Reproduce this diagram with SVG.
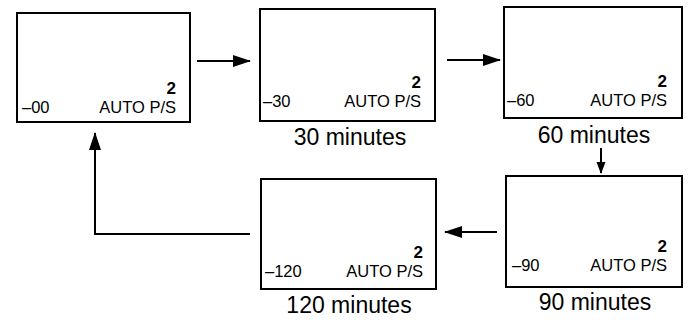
<svg xmlns="http://www.w3.org/2000/svg" width="689" height="320" viewBox="0 0 689 320">
<style>
  .box{fill:#fff;stroke:#000;stroke-width:2}
  .big{font-family:"Liberation Sans",Arial,sans-serif;font-size:17px;font-weight:bold;fill:#000;text-anchor:end}
  .lbl{font-family:"Liberation Sans",Arial,sans-serif;font-size:16.5px;fill:#000}
  .end{text-anchor:end}
  .cap{font-family:"Liberation Sans",Arial,sans-serif;font-size:23px;fill:#000;text-anchor:middle}
  .conn{fill:none;stroke:#000;stroke-width:2}
</style>
<defs>
  <marker id="ah" markerUnits="userSpaceOnUse" markerWidth="18" markerHeight="14" refX="17" refY="7" orient="auto">
    <path d="M0,1 L18,7 L0,13 z" fill="#000"/>
  </marker>
  <marker id="ahs" markerUnits="userSpaceOnUse" markerWidth="12" markerHeight="10" refX="11" refY="5" orient="auto">
    <path d="M0,0.5 L12,5 L0,9.5 z" fill="#000"/>
  </marker>
</defs>
<rect width="689" height="320" fill="#fff"/>
<g id="connectors">
  <line class="conn" x1="197" y1="61" x2="250" y2="61" marker-end="url(#ah)"/>
  <line class="conn" x1="447" y1="60" x2="500" y2="60" marker-end="url(#ah)"/>
  <line class="conn" x1="601" y1="148" x2="601" y2="173" marker-end="url(#ahs)"/>
  <line class="conn" x1="497" y1="232" x2="445" y2="232" marker-end="url(#ah)"/>
  <polyline class="conn" points="250,234 95,234 95,133" marker-end="url(#ah)"/>
</g>
<g id="node-00">
  <rect class="box" x="17" y="13" width="173" height="109"/>
  <text class="big" x="176" y="94">2</text>
  <text class="lbl" x="22" y="113">–00</text>
  <text class="lbl end" x="176" y="113">AUTO P/S</text>
</g>
<g id="node-30">
  <rect class="box" x="260" y="9" width="175" height="112"/>
  <text class="big" x="421" y="88">2</text>
  <text class="lbl" x="263" y="107">–30</text>
  <text class="lbl end" x="421" y="107">AUTO P/S</text>
  <text class="cap" x="350" y="145">30 minutes</text>
</g>
<g id="node-60">
  <rect class="box" x="504" y="7" width="178" height="111"/>
  <text class="big" x="667" y="87">2</text>
  <text class="lbl" x="507" y="106">–60</text>
  <text class="lbl end" x="667" y="106">AUTO P/S</text>
  <text class="cap" x="594" y="143">60 minutes</text>
</g>
<g id="node-90">
  <rect class="box" x="506" y="176" width="176" height="111"/>
  <text class="big" x="667" y="252">2</text>
  <text class="lbl" x="512" y="271">–90</text>
  <text class="lbl end" x="667" y="271">AUTO P/S</text>
  <text class="cap" x="595" y="310">90 minutes</text>
</g>
<g id="node-120">
  <rect class="box" x="261" y="179" width="175" height="110"/>
  <text class="big" x="423" y="258">2</text>
  <text class="lbl" x="265" y="277">–120</text>
  <text class="lbl end" x="423" y="277">AUTO P/S</text>
  <text class="cap" x="349" y="313">120 minutes</text>
</g>
</svg>
